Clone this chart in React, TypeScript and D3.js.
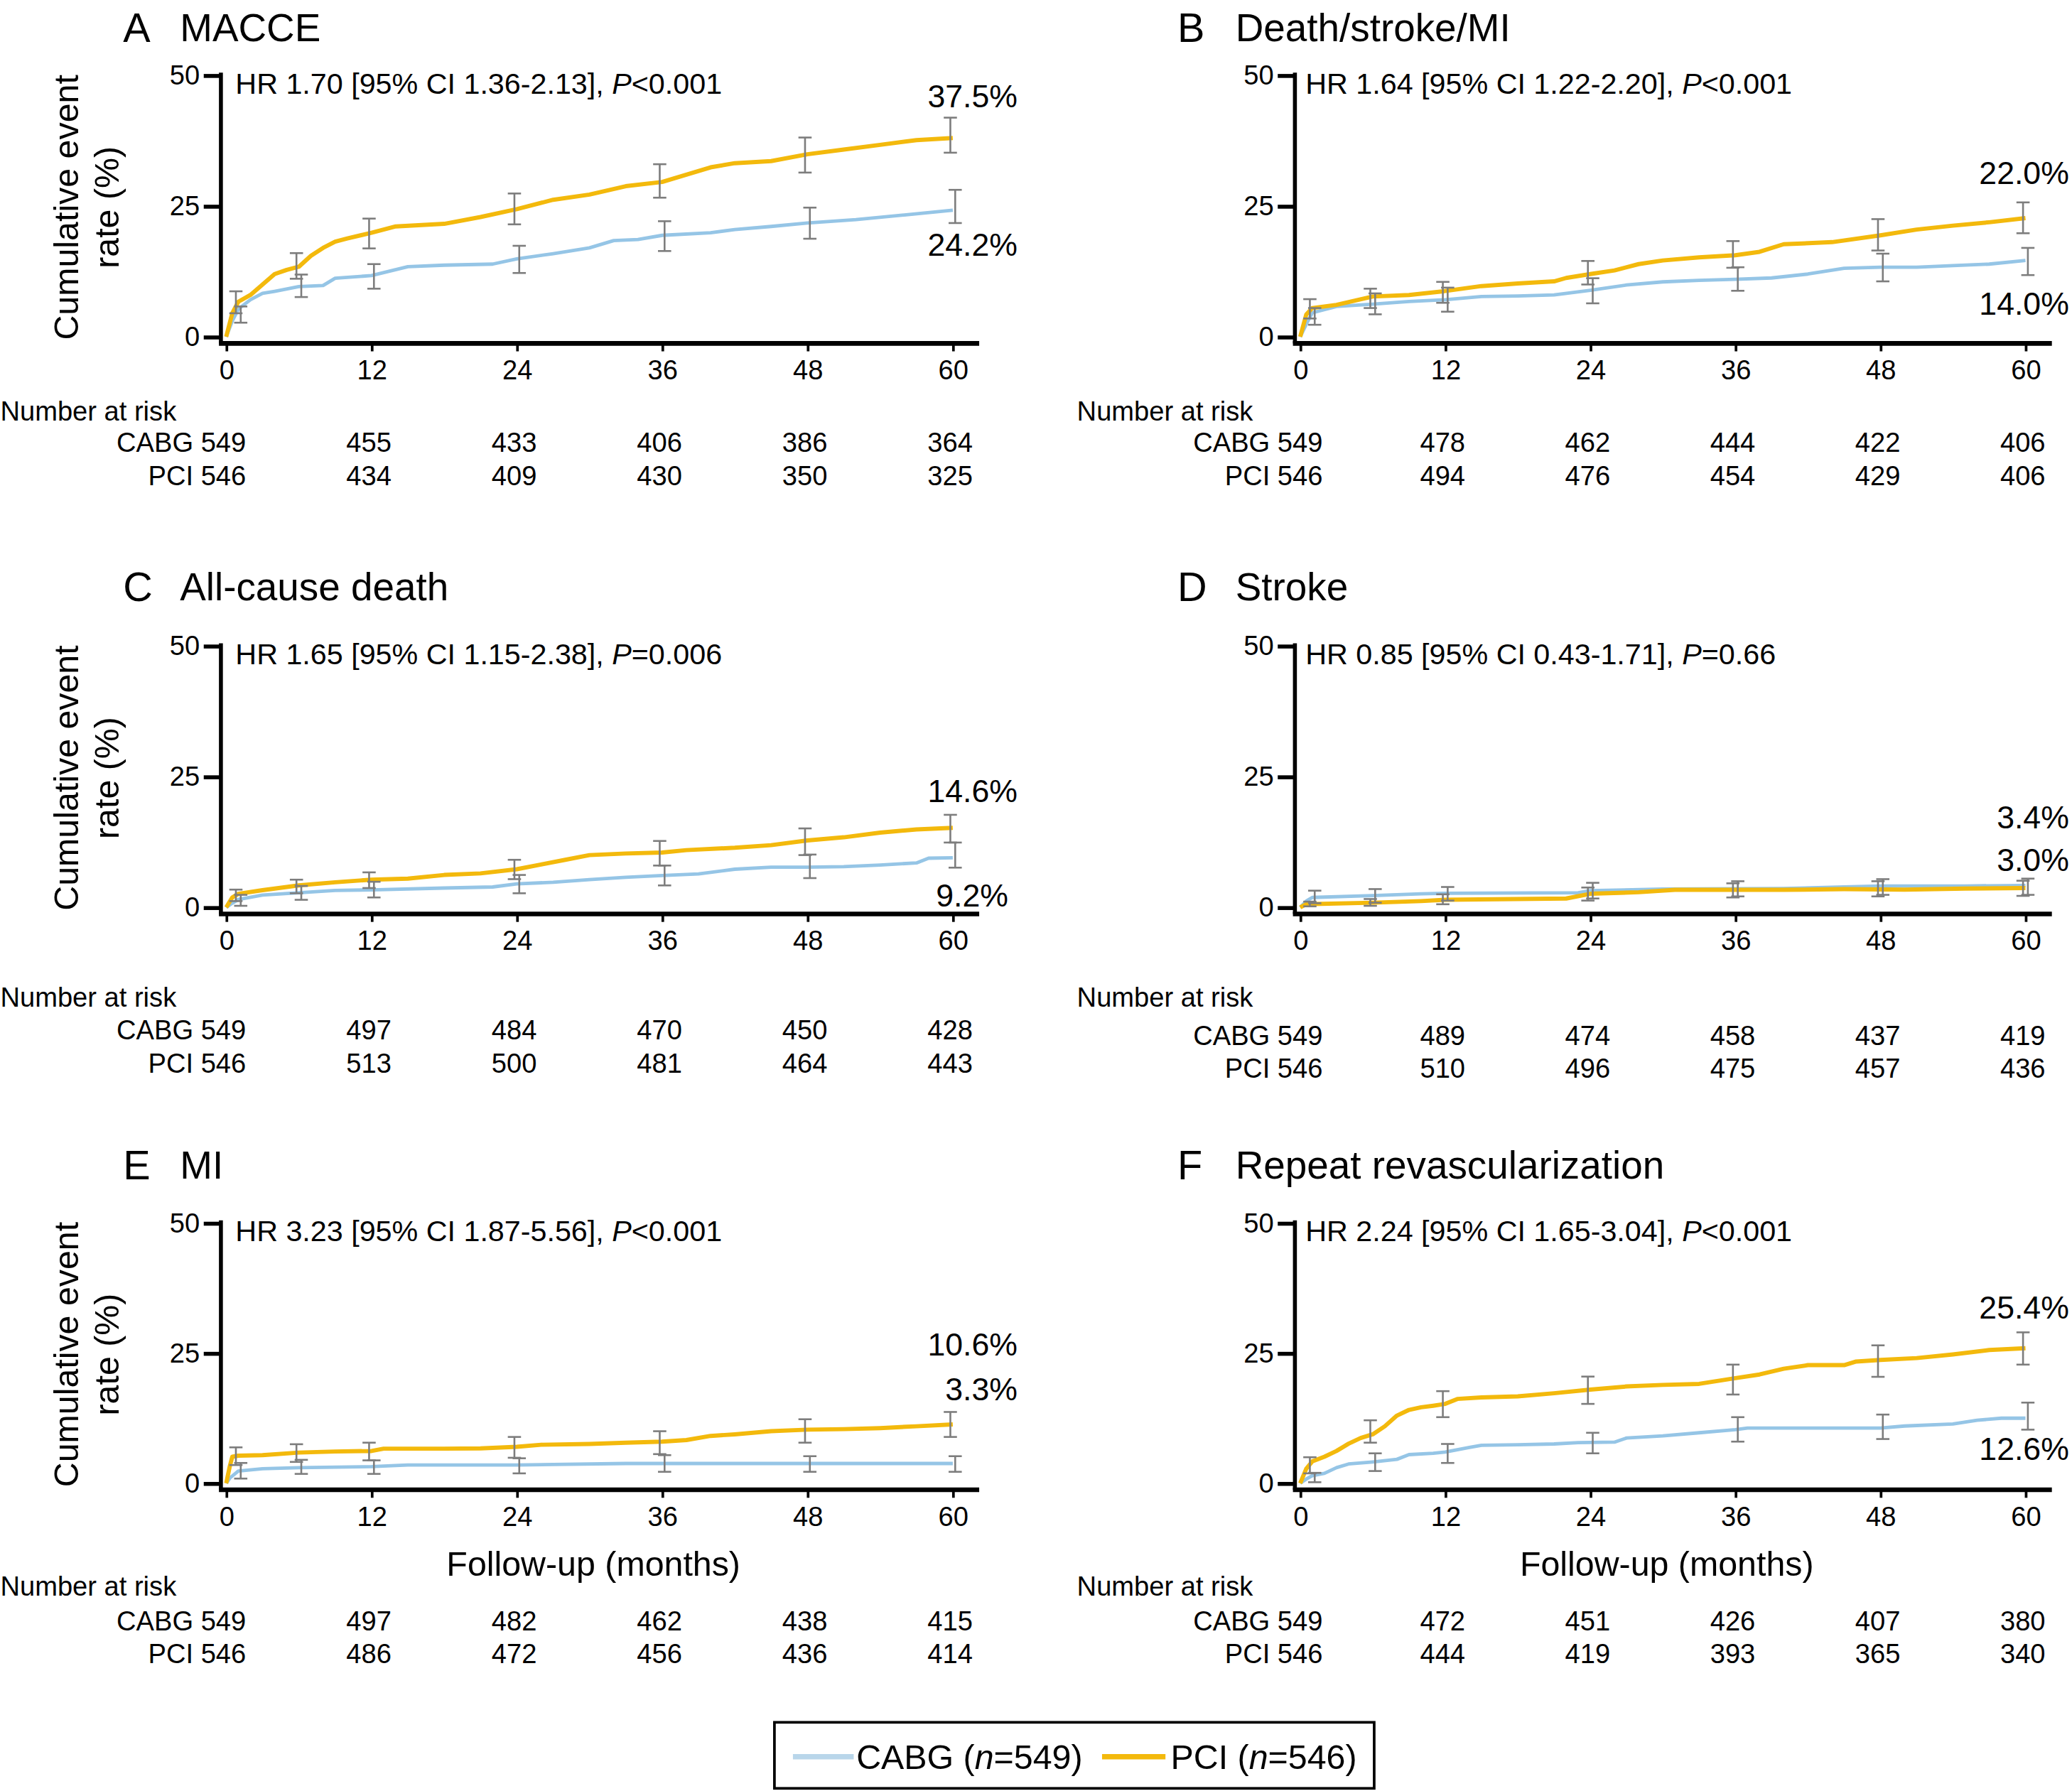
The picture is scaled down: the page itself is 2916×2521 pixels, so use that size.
import { useRef, useEffect } from "react";
import * as d3 from "d3";

type Pt = [number, number];

const tickMonths = [0, 12, 24, 36, 48, 60];
const riskMonths = [12, 24, 36, 48, 60];
const barMonths = [1, 6, 12, 24, 36, 48, 60];

// A  MACCE
const maccePci: Pt[] = [[0, 0], [0.5, 4.5], [1, 6.7], [2, 8], [3, 10], [4, 12], [5, 12.8], [6, 13.4], [7, 15.5], [8, 17], [9, 18.2], [10, 18.8], [12, 19.9], [14, 21.1], [18, 21.6], [21, 22.9], [24, 24.4], [27, 26.2], [30, 27.2], [33, 28.8], [36, 29.6], [38, 31], [40, 32.4], [42, 33.2], [45, 33.6], [48, 34.9], [51, 35.8], [54, 36.7], [57, 37.6], [60, 38]];
const macceCabg: Pt[] = [[0, 0], [0.5, 3], [1, 5.3], [2, 7.1], [3, 8.3], [4, 8.7], [6, 9.6], [8, 9.8], [9, 11.2], [12, 11.7], [15, 13.4], [18, 13.7], [22, 13.9], [24, 14.9], [27, 15.9], [30, 17], [32, 18.4], [34, 18.6], [36, 19.4], [40, 19.9], [42, 20.5], [45, 21.1], [48, 21.75], [52, 22.4], [56, 23.3], [60, 24.2]];
const maccePciLo = [4.5, 11.1, 16.9, 21.5, 26.6, 31.4, 35.2];
const maccePciHi = [8.7, 16, 22.6, 27.4, 33, 38.1, 41.9];
const macceCabgLo = [2.7, 7.6, 9.2, 12.2, 16.4, 18.75, 21.75];
const macceCabgHi = [5.8, 11.9, 13.9, 17.4, 22.1, 24.7, 28.1];
const macceRiskCabg = [455, 433, 406, 386, 364];
const macceRiskPci = [434, 409, 430, 350, 325];

// B  Death/stroke/MI
const dsmPci: Pt[] = [[0, 0], [0.5, 4.25], [1, 5.5], [3, 6.1], [6, 7.7], [9, 8], [12, 8.75], [15, 9.7], [18, 10.2], [21, 10.6], [22, 11.25], [24, 12], [26, 12.7], [28, 13.9], [30, 14.6], [33, 15.2], [36, 15.6], [38, 16.25], [40, 17.7], [44, 18.1], [48, 19.4], [51, 20.5], [54, 21.25], [57, 21.9], [60, 22.7]];
const dsmCabg: Pt[] = [[0, 0], [0.5, 2.4], [1, 4.6], [3, 5.8], [6, 6.25], [9, 6.75], [12, 7.1], [15, 7.7], [18, 7.8], [21, 8], [24, 8.9], [27, 9.9], [30, 10.5], [33, 10.8], [36, 11], [39, 11.25], [42, 12], [45, 13.1], [48, 13.3], [51, 13.3], [54, 13.6], [57, 13.9], [60, 14.6]];
const dsmPciLo = [3.5, 5.5, 6.5, 10, 13.2, 16.5, 19.8];
const dsmPciHi = [7.2, 9.2, 10.5, 14.5, 18.3, 22.5, 25.7];
const dsmCabgLo = [2.3, 4.3, 4.8, 6.4, 8.8, 10.6, 11.8];
const dsmCabgHi = [5.5, 8.3, 9.4, 11.2, 13.3, 15.9, 17];
const dsmRiskCabg = [478, 462, 444, 422, 406];
const dsmRiskPci = [494, 476, 454, 429, 406];

// C  All-cause death
const deathPci: Pt[] = [[0, 0], [0.5, 1.9], [1, 2.6], [3, 3.3], [6, 4.2], [9, 4.8], [12, 5.3], [15, 5.5], [18, 6.2], [21, 6.5], [24, 7.3], [26, 8.2], [28, 9.1], [30, 10], [33, 10.3], [36, 10.5], [38, 10.95], [42, 11.4], [45, 11.9], [48, 12.8], [51, 13.4], [54, 14.3], [57, 14.9], [60, 15.2]];
const deathCabg: Pt[] = [[0, 0], [0.5, 0.8], [1, 1.5], [3, 2.35], [6, 2.8], [9, 3.25], [12, 3.35], [18, 3.7], [22, 3.9], [24, 4.5], [27, 4.8], [30, 5.3], [33, 5.75], [36, 6.1], [39, 6.4], [42, 7.3], [45, 7.7], [48, 7.7], [51, 7.8], [54, 8.1], [57, 8.5], [58, 9.4], [60, 9.5]];
const deathPciLo = [1.2, 2.7, 3.7, 5.4, 8.0, 10.0, 12.4];
const deathPciHi = [3.4, 5.3, 6.7, 9.1, 12.7, 15.1, 17.7];
const deathCabgLo = [0.3, 1.45, 1.9, 2.7, 4.2, 5.6, 7.6];
const deathCabgHi = [2.4, 4.1, 4.9, 6.2, 8.0, 10.1, 12.4];
const deathRiskCabg = [497, 484, 470, 450, 428];
const deathRiskPci = [513, 500, 481, 464, 443];

// D  Stroke
const strokePci: Pt[] = [[0, 0], [0.5, 0.6], [6, 0.9], [10, 1.2], [12, 1.45], [22, 1.7], [24, 2.6], [28, 2.9], [31, 3.35], [40, 3.35], [45, 3.5], [50, 3.4], [55, 3.6], [60, 3.7]];
const strokeCabg: Pt[] = [[0, 0], [0.5, 1.2], [1, 1.9], [6, 2.25], [10, 2.6], [12, 2.7], [23, 2.8], [24, 3.2], [30, 3.5], [40, 3.6], [45, 3.9], [48, 4.1], [55, 4.1], [60, 4.2]];
const strokePciLo = [0.2, 0.3, 0.6, 1.3, 1.9, 2.1, 2.2];
const strokePciHi = [1.1, 1.6, 2.5, 3.8, 4.6, 5.0, 5.1];
const strokeCabgLo = [0.8, 0.9, 1.3, 1.7, 2.1, 2.4, 2.4];
const strokeCabgHi = [3.2, 3.5, 3.9, 4.7, 5.0, 5.4, 5.5];
const strokeRiskCabg = [489, 474, 458, 437, 419];
const strokeRiskPci = [510, 496, 475, 457, 436];

// E  MI
const miPci: Pt[] = [[0, 0], [0.3, 3.3], [0.5, 5.1], [1, 5.3], [3, 5.4], [6, 5.9], [9, 6.1], [12, 6.2], [13, 6.65], [18, 6.65], [21, 6.7], [24, 7], [26, 7.4], [30, 7.55], [33, 7.8], [36, 8], [38, 8.3], [40, 9.1], [42, 9.4], [45, 10], [48, 10.3], [51, 10.4], [54, 10.6], [57, 10.95], [60, 11.3]];
const miCabg: Pt[] = [[0, 0], [0.3, 1], [1, 2.35], [3, 2.8], [6, 3], [12, 3.2], [15, 3.5], [24, 3.5], [27, 3.6], [33, 3.8], [60, 3.8]];
const miPciLo = [3.5, 4.1, 4.4, 4.9, 5.6, 7.8, 8.9];
const miPciHi = [6.9, 7.5, 7.8, 8.9, 10, 12.3, 13.7];
const miCabgLo = [0.9, 1.8, 1.8, 1.9, 2.2, 2.2, 2.2];
const miCabgHi = [3.9, 4.5, 4.4, 4.8, 5.4, 5.2, 5.2];
const miRiskCabg = [497, 482, 462, 438, 415];
const miRiskPci = [486, 472, 456, 436, 414];

// F  Repeat revascularization
const revPci: Pt[] = [[0, 0], [0.5, 2.8], [1, 4.2], [2, 5.1], [3, 6.2], [4, 7.6], [5, 8.7], [6, 9.4], [7, 10.95], [8, 13], [9, 14.1], [10, 14.6], [11, 14.9], [12, 15.25], [13, 16.2], [15, 16.5], [18, 16.7], [21, 17.3], [24, 18], [27, 18.6], [30, 18.9], [33, 19.1], [36, 20.2], [38, 20.9], [40, 22], [42, 22.7], [45, 22.7], [46, 23.4], [48, 23.7], [51, 24.05], [54, 24.75], [57, 25.6], [60, 25.95]];
const revCabg: Pt[] = [[0, 0], [0.5, 0.8], [1, 1.45], [2, 1.9], [3, 3], [4, 3.7], [6, 4.1], [8, 4.6], [9, 5.5], [11, 5.75], [12, 6], [14, 6.9], [15, 7.3], [18, 7.4], [21, 7.55], [23, 7.8], [26, 7.9], [27, 8.7], [30, 9.1], [33, 9.7], [36, 10.3], [37, 10.6], [48, 10.6], [50, 11], [54, 11.4], [56, 12.1], [58, 12.5], [60, 12.5]];
const revPciLo = [1.9, 7.8, 12.7, 15.25, 17.05, 20.45, 22.8];
const revPciHi = [5, 12.1, 17.7, 20.5, 22.8, 26.5, 29];
const revCabgLo = [0.2, 2.35, 3.9, 5.75, 8, 8.5, 10.3];
const revCabgHi = [2, 5.75, 7.55, 9.7, 12.7, 13.2, 15.5];
const revRiskCabg = [472, 451, 426, 407, 380];
const revRiskPci = [444, 419, 393, 365, 340];

const CABG_COLOR = "#95c5e6";
const PCI_COLOR = "#f3b90c";
const FONT = "'Liberation Sans', Arial, Helvetica, sans-serif";

// layout (viewBox units)
const cols = [
  { x0: 171, x60: 721, letterX: 93, titleX: 136, hrX: 178, pctRight: 770, riskLabelX: 0, riskNameRight: 186 },
  { x0: 984, x60: 1533, letterX: 891, titleX: 935, hrX: 988, pctRight: 1566, riskLabelX: 815, riskNameRight: 1001 },
];
const rows = [
  { titleY: 21, yTop: 57, yZero: 255, tickY: 280, riskHead: 311, cabgY: 335, pciY: 360 },
  { titleY: 444, yTop: 489, yZero: 687, tickY: 712, riskHead: 755, cabgY: 780, pciY: 805 },
  { titleY: 882, yTop: 926, yZero: 1123, tickY: 1148, riskHead: 1201, cabgY: 1227, pciY: 1252 },
];

const panels = [
  { letter: "A", title: "MACCE", col: 0, row: 0, hr: ["HR 1.70 [95% CI 1.36-2.13], ", "<0.001"], pci: maccePci, cabg: macceCabg, pciLo: maccePciLo, pciHi: maccePciHi, cabgLo: macceCabgLo, cabgHi: macceCabgHi, riskCabg: macceRiskCabg, riskPci: macceRiskPci, pcts: [["37.5%", 73, 0], ["24.2%", 185, 0]], riskShift: 0 },
  { letter: "B", title: "Death/stroke/MI", col: 1, row: 0, hr: ["HR 1.64 [95% CI 1.22-2.20], ", "<0.001"], pci: dsmPci, cabg: dsmCabg, pciLo: dsmPciLo, pciHi: dsmPciHi, cabgLo: dsmCabgLo, cabgHi: dsmCabgHi, riskCabg: dsmRiskCabg, riskPci: dsmRiskPci, pcts: [["22.0%", 131, 0], ["14.0%", 230, 0]], riskShift: 0 },
  { letter: "C", title: "All-cause death", col: 0, row: 1, hr: ["HR 1.65 [95% CI 1.15-2.38], ", "=0.006"], pci: deathPci, cabg: deathCabg, pciLo: deathPciLo, pciHi: deathPciHi, cabgLo: deathCabgLo, cabgHi: deathCabgHi, riskCabg: deathRiskCabg, riskPci: deathRiskPci, pcts: [["14.6%", 599, 0], ["9.2%", 678, -7]], riskShift: 0 },
  { letter: "D", title: "Stroke", col: 1, row: 1, hr: ["HR 0.85 [95% CI 0.43-1.71], ", "=0.66"], pci: strokePci, cabg: strokeCabg, pciLo: strokePciLo, pciHi: strokePciHi, cabgLo: strokeCabgLo, cabgHi: strokeCabgHi, riskCabg: strokeRiskCabg, riskPci: strokeRiskPci, pcts: [["3.4%", 619, 0], ["3.0%", 651, 0]], riskShift: 4 },
  { letter: "E", title: "MI", col: 0, row: 2, hr: ["HR 3.23 [95% CI 1.87-5.56], ", "<0.001"], pci: miPci, cabg: miCabg, pciLo: miPciLo, pciHi: miPciHi, cabgLo: miCabgLo, cabgHi: miCabgHi, riskCabg: miRiskCabg, riskPci: miRiskPci, pcts: [["10.6%", 1018, 0], ["3.3%", 1052, 0]], riskShift: 0 },
  { letter: "F", title: "Repeat revascularization", col: 1, row: 2, hr: ["HR 2.24 [95% CI 1.65-3.04], ", "<0.001"], pci: revPci, cabg: revCabg, pciLo: revPciLo, pciHi: revPciHi, cabgLo: revCabgLo, cabgHi: revCabgHi, riskCabg: revRiskCabg, riskPci: revRiskPci, pcts: [["25.4%", 990, 0], ["12.6%", 1097, 0]], riskShift: 0 },
];

const App = () => {
  const svgRef = useRef<SVGSVGElement | null>(null);

  useEffect(() => {
    if (!svgRef.current) return;
    const svg = d3.select(svgRef.current);
    svg.selectAll("*").remove();
    svg.style("font-family", FONT);

    panels.forEach((p) => {
      const c = cols[p.col];
      const r = rows[p.row];
      const g = svg.append("g");
      const x = d3.scaleLinear().domain([0, 60]).range([c.x0, c.x60]);
      const y = d3.scaleLinear().domain([0, 50]).range([r.yZero, r.yTop]);
      const axisX = c.x0 - 4;
      const xAxisY = r.yZero + 5;

      // title
      g.append("text").attr("x", c.letterX).attr("y", r.titleY).attr("dy", "0.35em")
        .attr("font-size", 31).text(p.letter);
      g.append("text").attr("x", c.titleX).attr("y", r.titleY).attr("dy", "0.35em")
        .attr("font-size", 29.5).text(p.title);

      // y axis
      const ya = g.append("g").attr("transform", `translate(${axisX},0)`)
        .call(d3.axisLeft(y).tickValues([0, 25, 50]).tickSize(13).tickPadding(3));
      ya.select(".domain").remove();
      ya.selectAll("line").attr("stroke", "#000").attr("stroke-width", 3);
      ya.selectAll("text").attr("font-size", 20.5).attr("font-family", FONT).attr("fill", "#000");
      g.append("line").attr("x1", axisX).attr("x2", axisX)
        .attr("y1", y(50) - 2).attr("y2", xAxisY).attr("stroke", "#000").attr("stroke-width", 3);

      // x axis
      const xa = g.append("g").attr("transform", `translate(0,${xAxisY})`)
        .call(d3.axisBottom(x).tickValues(tickMonths).tickSize(6).tickPadding(0));
      xa.select(".domain").remove();
      xa.selectAll("line").attr("stroke", "#000").attr("stroke-width", 2);
      xa.selectAll("text").attr("font-size", 20.5).attr("font-family", FONT).attr("fill", "#000")
        .attr("y", r.tickY - xAxisY).attr("dy", "0.35em");
      g.append("line").attr("x1", axisX - 1.5).attr("x2", x(60) + 20)
        .attr("y1", xAxisY).attr("y2", xAxisY).attr("stroke", "#000").attr("stroke-width", 3.5);

      // curves
      const line = d3.line<Pt>().x((d) => x(d[0])).y((d) => y(d[1]));
      g.append("path").attr("d", line(p.cabg)).attr("fill", "none")
        .attr("stroke", CABG_COLOR).attr("stroke-width", 2.6).attr("stroke-linejoin", "round");
      g.append("path").attr("d", line(p.pci)).attr("fill", "none")
        .attr("stroke", PCI_COLOR).attr("stroke-width", 3.2).attr("stroke-linejoin", "round");

      // error bars
      const bars = (lo: number[], hi: number[], shift: number) => {
        barMonths.forEach((m, i) => {
          const bx = x(m + shift);
          const bg = g.append("g").attr("stroke", "#7d7d7d").attr("stroke-width", 1.4);
          bg.append("line").attr("x1", bx).attr("x2", bx).attr("y1", y(lo[i])).attr("y2", y(hi[i]));
          bg.append("line").attr("x1", bx - 5).attr("x2", bx + 5).attr("y1", y(lo[i])).attr("y2", y(lo[i]));
          bg.append("line").attr("x1", bx - 5).attr("x2", bx + 5).attr("y1", y(hi[i])).attr("y2", y(hi[i]));
        });
      };
      bars(p.pciLo, p.pciHi, -0.2);
      bars(p.cabgLo, p.cabgHi, 0.2);

      // HR text
      const hr = g.append("text").attr("x", c.hrX).attr("y", y(50) + 6).attr("dy", "0.35em")
        .attr("font-size", 22.2);
      hr.append("tspan").text(p.hr[0]);
      hr.append("tspan").attr("font-style", "italic").text("P");
      hr.append("tspan").text(p.hr[1]);

      // end percentages
      p.pcts.forEach(([t, py, dx]) => {
        g.append("text").attr("x", c.pctRight + (dx as number)).attr("y", py as number).attr("dy", "0.35em")
          .attr("text-anchor", "end").attr("font-size", 24).text(t as string);
      });

      // y title (left column only)
      if (p.col === 0) {
        const cy = (r.yTop + r.yZero) / 2 + 1;
        const yt = g.append("text").attr("transform", `translate(50,${cy}) rotate(-90)`)
          .attr("text-anchor", "middle").attr("font-size", 26);
        yt.append("tspan").attr("x", 0).attr("dy", "0.35em").text("Cumulative event");
        yt.append("tspan").attr("x", 0).attr("dy", "1.18em").text("rate (%)");
      }

      // follow-up label (bottom row)
      if (p.row === 2) {
        g.append("text").attr("x", (x(0) + x(60)) / 2 + 3).attr("y", 1184).attr("dy", "0.35em")
          .attr("text-anchor", "middle").attr("font-size", 26).text("Follow-up (months)");
      }

      // number at risk
      const rs = p.riskShift;
      g.append("text").attr("x", c.riskLabelX).attr("y", r.riskHead).attr("dy", "0.35em")
        .attr("font-size", 20.5).text("Number at risk");
      g.append("text").attr("x", c.riskNameRight).attr("y", r.cabgY + rs).attr("dy", "0.35em")
        .attr("text-anchor", "end").attr("font-size", 20.5).text("CABG 549");
      g.append("text").attr("x", c.riskNameRight).attr("y", r.pciY + rs).attr("dy", "0.35em")
        .attr("text-anchor", "end").attr("font-size", 20.5).text("PCI 546");
      riskMonths.forEach((m, i) => {
        g.append("text").attr("x", x(m) - 2).attr("y", r.cabgY + rs).attr("dy", "0.35em")
          .attr("text-anchor", "middle").attr("font-size", 20.5).text(p.riskCabg[i]);
        g.append("text").attr("x", x(m) - 2).attr("y", r.pciY + rs).attr("dy", "0.35em")
          .attr("text-anchor", "middle").attr("font-size", 20.5).text(p.riskPci[i]);
      });
    });

    // legend
    const lg = svg.append("g");
    lg.append("rect").attr("x", 586).attr("y", 1304).attr("width", 454).attr("height", 50)
      .attr("fill", "none").attr("stroke", "#000").attr("stroke-width", 2);
    lg.append("line").attr("x1", 600).attr("x2", 646).attr("y1", 1330).attr("y2", 1330)
      .attr("stroke", "#b9d6ea").attr("stroke-width", 4);
    const t1 = lg.append("text").attr("x", 648).attr("y", 1330).attr("dy", "0.35em").attr("font-size", 26);
    t1.append("tspan").text("CABG (");
    t1.append("tspan").attr("font-style", "italic").text("n");
    t1.append("tspan").text("=549)");
    lg.append("line").attr("x1", 834).attr("x2", 882).attr("y1", 1330).attr("y2", 1330)
      .attr("stroke", PCI_COLOR).attr("stroke-width", 4);
    const t2 = lg.append("text").attr("x", 886).attr("y", 1330).attr("dy", "0.35em").attr("font-size", 26);
    t2.append("tspan").text("PCI (");
    t2.append("tspan").attr("font-style", "italic").text("n");
    t2.append("tspan").text("=546)");
  }, []);

  return (
    <svg
      ref={svgRef}
      width={2916}
      height={2521}
      viewBox="0 0 1568 1356"
      style={{ position: "absolute", left: 0, top: 0, background: "#fff" }}
    ></svg>
  );
};

export default App;
